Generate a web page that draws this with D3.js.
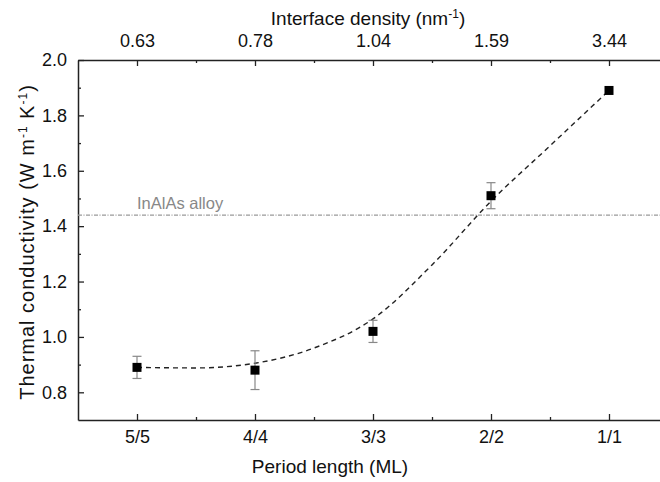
<!DOCTYPE html>
<html>
<head>
<meta charset="utf-8">
<script src="https://cdn.jsdelivr.net/npm/d3@7"></script>
<style>
  body { margin: 0; background: #fff; }
  svg { display: block; font-family: "Liberation Sans", Arial, sans-serif; }
</style>
</head>
<body>
<div id="chart"></div>
<script>
// categories on bottom axis, matching interface density on top axis
var periods = ["5/5", "4/4", "3/3", "2/2", "1/1"];
var densities = ["0.63", "0.78", "1.04", "1.59", "3.44"];
// measured thermal conductivity and error
var kappa = [0.89, 0.88, 1.02, 1.51, 1.89];
var kappaErr = [0.04, 0.07, 0.04, 0.047, 0];
// guide curve (category index, value)
var fitX = [0, 0.5, 1, 1.5, 2, 2.5, 3, 3.5, 4];
var fitY = [0.89, 0.888, 0.905, 0.96, 1.065, 1.26, 1.49, 1.69, 1.89];
var alloyValue = 1.44;
var yTicks = [0.8, 1.0, 1.2, 1.4, 1.6, 1.8, 2.0];
var yMinor = [0.9, 1.1, 1.3, 1.5, 1.7, 1.9];
var xMinor = [0.5, 1.5, 2.5, 3.5];

var W = 660, H = 482;
var margin = {top: 60, left: 78, bottom: 62};
var plotRight = 668; // plot frame runs past the picture edge

var svg = d3.select("#chart").append("svg")
    .attr("width", W)
    .attr("height", H);

var x = d3.scaleLinear().domain([-0.5, 4.5]).range([margin.left, plotRight]);
var y = d3.scaleLinear().domain([0.7, 2.0]).range([H - margin.bottom, margin.top]);

var axisColor = "#222";
var fs = 18;

function styleAxis(g) {
    g.selectAll(".domain").attr("stroke", axisColor).attr("stroke-width", 1.5);
    g.selectAll(".tick line").attr("stroke", axisColor).attr("stroke-width", 1.3);
    g.selectAll("text").attr("fill", "#111").style("font-size", fs + "px")
        .style("font-family", "'Liberation Sans', Arial, sans-serif");
}

// bottom axis
var gb = svg.append("g")
    .attr("transform", "translate(0," + y(0.7) + ")")
    .call(d3.axisBottom(x).tickValues([0, 1, 2, 3, 4])
        .tickFormat(function (i) { return periods[i]; })
        .tickSizeInner(-6).tickSizeOuter(0).tickPadding(10));
styleAxis(gb);
var gbm = svg.append("g")
    .attr("transform", "translate(0," + y(0.7) + ")")
    .call(d3.axisBottom(x).tickValues(xMinor).tickFormat("").tickSizeInner(-3).tickSizeOuter(0));
gbm.select(".domain").remove();
styleAxis(gbm);

// top axis
var gt = svg.append("g")
    .attr("transform", "translate(0," + y(2.0) + ")")
    .call(d3.axisTop(x).tickValues([0, 1, 2, 3, 4])
        .tickFormat(function (i) { return densities[i]; })
        .tickSizeInner(-6).tickSizeOuter(0).tickPadding(13));
styleAxis(gt);
var gtm = svg.append("g")
    .attr("transform", "translate(0," + y(2.0) + ")")
    .call(d3.axisTop(x).tickValues(xMinor).tickFormat("").tickSizeInner(-3).tickSizeOuter(0));
gtm.select(".domain").remove();
styleAxis(gtm);

// left axis
var gl = svg.append("g")
    .attr("transform", "translate(" + margin.left + ",0)")
    .call(d3.axisLeft(y).tickValues(yTicks).tickFormat(d3.format(".1f"))
        .tickSizeInner(-6).tickSizeOuter(0).tickPadding(11));
styleAxis(gl);
var glm = svg.append("g")
    .attr("transform", "translate(" + margin.left + ",0)")
    .call(d3.axisLeft(y).tickValues(yMinor).tickFormat("").tickSizeInner(-3).tickSizeOuter(0));
glm.select(".domain").remove();
styleAxis(glm);

// InAlAs alloy reference line
svg.append("line")
    .attr("x1", x(-0.5)).attr("x2", plotRight)
    .attr("y1", y(alloyValue)).attr("y2", y(alloyValue))
    .attr("stroke", "#999")
    .attr("stroke-width", 1.1)
    .attr("stroke-dasharray", "4,1.5,1,1.5");
svg.append("text")
    .attr("x", 137).attr("y", y(alloyValue) - 6)
    .attr("fill", "#888")
    .style("font-size", "16.5px")
    .text("InAlAs alloy");

// dashed guide curve
var line = d3.line()
    .x(function (d) { return x(d[0]); })
    .y(function (d) { return y(d[1]); })
    .curve(d3.curveMonotoneX);
svg.append("path")
    .datum(d3.zip(fitX, fitY))
    .attr("d", line)
    .attr("fill", "none")
    .attr("stroke", "#222")
    .attr("stroke-width", 1.4)
    .attr("stroke-dasharray", "5,4");

// error bars
var pts = periods.map(function (p, i) { return {i: i, v: kappa[i], e: kappaErr[i]}; });
var eb = svg.append("g").attr("stroke", "#888").attr("stroke-width", 1.2);
pts.filter(function (d) { return d.e > 0; }).forEach(function (d) {
    eb.append("line").attr("x1", x(d.i)).attr("x2", x(d.i))
        .attr("y1", y(d.v - d.e)).attr("y2", y(d.v + d.e));
    [d.v - d.e, d.v + d.e].forEach(function (v) {
        eb.append("line").attr("x1", x(d.i) - 4.5).attr("x2", x(d.i) + 4.5)
            .attr("y1", y(v)).attr("y2", y(v));
    });
});

// square markers
svg.append("g").selectAll("rect")
    .data(pts)
    .join("rect")
    .attr("x", function (d) { return x(d.i) - 4.5; })
    .attr("y", function (d) { return y(d.v) - 4.5; })
    .attr("width", 9).attr("height", 9)
    .attr("fill", "#000");

// axis titles
var titleFs = "19px", supFs = "12px";
svg.append("text")
    .attr("x", 330).attr("y", 473)
    .attr("text-anchor", "middle")
    .attr("fill", "#111")
    .style("font-size", titleFs)
    .text("Period length (ML)");

var tt = svg.append("text")
    .attr("x", 368).attr("y", 25)
    .attr("text-anchor", "middle")
    .attr("fill", "#111")
    .style("font-size", titleFs);
tt.append("tspan").text("Interface density (nm");
tt.append("tspan").attr("dy", -7).style("font-size", supFs).text("-1");
tt.append("tspan").attr("dy", 7).text(")");

var yt = svg.append("text")
    .attr("transform", "translate(34," + ((y(0.7) + y(2.0)) / 2 + 2) + ") rotate(-90)")
    .attr("text-anchor", "middle")
    .attr("fill", "#111")
    .style("font-size", "20px")
    .style("letter-spacing", "1px");
yt.append("tspan").text("Thermal conductivity (W m");
yt.append("tspan").attr("dy", -7).style("font-size", supFs).text("-1");
yt.append("tspan").attr("dy", 7).text(" K");
yt.append("tspan").attr("dy", -7).style("font-size", supFs).text("-1");
yt.append("tspan").attr("dy", 7).text(")");
</script>
</body>
</html>
